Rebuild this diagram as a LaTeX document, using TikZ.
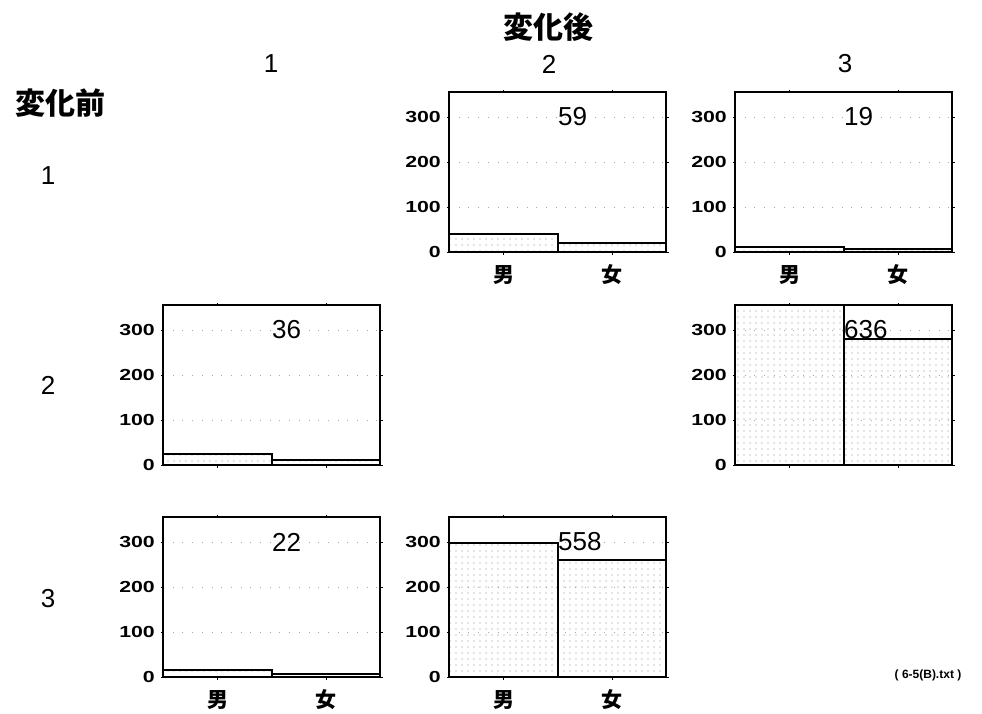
\documentclass[tikz,border=0pt]{standalone}
\usepackage{fontspec}
\setmainfont{Liberation Sans}
\newfontfamily\jpfont{Noto Sans CJK JP}
\usepackage{tikz}
\usetikzlibrary{calc}
\usetikzlibrary{patterns.meta}

% one small bar chart: name, left, top, male, female, total, labels below (1/0)
\newcommand{\barpanel}[7]{%
  \foreach \v in {100,200,300}
    \draw[gridline] (#2,{#3+160-0.45*\v}) -- ++(217,0);
  \fill[barfill] (#2,#3+160) rectangle ++(109,{-0.45*#4});
  \fill[barfill] (#2+109,#3+160) rectangle ++(108,{-0.45*#5});
  \draw[barbox] (#2,#3+160) rectangle ++(109,{-0.45*#4});
  \draw[barbox] (#2+109,#3+160) rectangle ++(108,{-0.45*#5});
  \draw[frame] (#2,#3) rectangle (#2+217,#3+160);
  \foreach \v in {0,100,200,300} {
    \draw[tick] (#2,{#3+160-0.45*\v}) -- ++(-2.5,0);
    \draw[tick] (#2+217,{#3+160-0.45*\v}) -- ++(2.5,0);
    \node[yval] at (#2-8,{#3+160-0.45*\v}) {\scalebox{1.33}[1]{\v}};
  }
  \foreach \dx in {54,163} {
    \draw[tick] (#2+\dx,#3) -- ++(0,-2.5);
    \draw[tick] (#2+\dx,#3+160) -- ++(0,2.5);
  }
  \node[total] (#1-total) at (#2+109,{#3+160-0.45*300}) {#6};
  \ifnum#7=1
    \node[sexlabel] (#1-m) at (#2+55,#3+183) {男};
    \node[sexlabel] (#1-f) at (#2+163,#3+183) {女};
  \fi
}

\begin{document}
\begin{tikzpicture}[x=1pt,y=-1pt,
    frame/.style={line width=1.4pt},
    barfill/.style={pattern={Dots[distance=6pt,radius=0.6pt]},pattern color=gray!90},
    barbox/.style={line width=2pt},
    gridline/.style={gray!70,line width=0.6pt,dash pattern=on 0.7pt off 9pt},
    tick/.style={line width=0.8pt},
    yval/.style={anchor=east,inner sep=0pt,font=\bfseries\fontsize{16}{16}\selectfont},
    total/.style={anchor=west,inner sep=0pt,font=\fontsize{26}{26}\selectfont},
    head/.style={inner sep=0pt,font=\fontsize{26}{26}\selectfont},
    title/.style={inner sep=0pt,font=\jpfont\bfseries\fontsize{30}{30}\selectfont},
    sexlabel/.style={inner sep=0pt,font=\jpfont\bfseries\fontsize{21}{21}\selectfont}]
  \useasboundingbox (0,0) rectangle (982,713);

  % titles
  \node[title] (after) at (548,27) {変化後};
  \node[title] (before) at (60,103) {変化前};

  % column and row numbers
  \node[head] (col1) at (271,64) {1};
  \node[head] (col2) at (549,64) {2};
  \node[head] (col3) at (845,64) {3};
  \node[head] (row1) at (48,176) {1};
  \node[head] (row2) at (48,385) {2};
  \node[head] (row3) at (48,599) {3};

  % panels
  \barpanel{p12}{449}{92}{40}{19}{59}{1}
  \barpanel{p13}{735}{92}{12}{7}{19}{1}
  \barpanel{p21}{163}{305}{24}{12}{36}{0}
  \barpanel{p23}{735}{305}{355}{280}{636}{0}
  \barpanel{p31}{163}{517}{15}{7}{22}{1}
  \barpanel{p32}{449}{517}{298}{260}{558}{1}

  \node[inner sep=0pt,font=\bfseries\fontsize{12}{12}\selectfont] (src) at (928,675) {( 6-5(B).txt )};
\end{tikzpicture}
\end{document}
